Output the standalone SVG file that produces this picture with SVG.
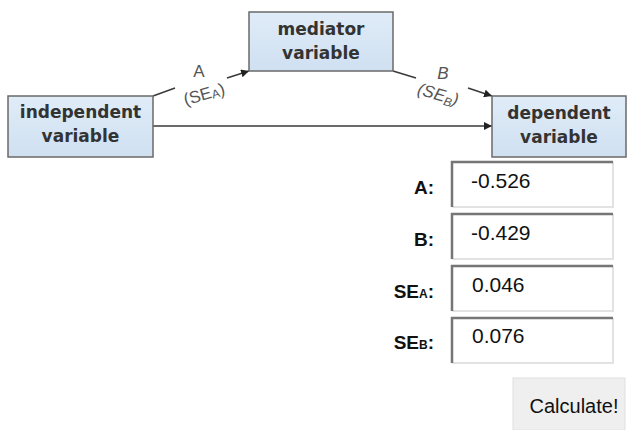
<svg xmlns="http://www.w3.org/2000/svg" width="628" height="430" viewBox="0 0 628 430">
<style>
.box{stroke:#6a6a6a;stroke-width:1.5;fill:url(#bg)}
.bt{font-family:"DejaVu Sans",sans-serif;font-weight:bold;font-size:17px;fill:#333;text-anchor:middle}
.ln{stroke:#3a3a3a;stroke-width:1.6;fill:none}
.lab{font-family:"Liberation Sans",Arial,sans-serif;font-size:17px;fill:#555}
.fl{font-family:"Liberation Sans",Arial,sans-serif;font-weight:bold;font-size:19px;fill:#111;text-anchor:end}
.fv{font-family:"Liberation Sans",Arial,sans-serif;font-size:21px;fill:#111}
.inp{fill:#fff}
.dk{stroke:#767676;stroke-width:2.5;fill:none}
.lt{stroke:#e2e2e2;stroke-width:2;fill:none}
</style>
<defs>
<linearGradient id="bg" x1="0" y1="0" x2="0" y2="1">
<stop offset="0" stop-color="#e0ecf8"/>
<stop offset="1" stop-color="#cfe0f1"/>
</linearGradient>
<marker id="ah" viewBox="0 0 10 10" refX="10" refY="5" markerWidth="8" markerHeight="8" markerUnits="userSpaceOnUse" orient="auto">
<path d="M0,0 L10,5 L0,10 Z" fill="#222"/>
</marker>
</defs>

<g id="connectors">
<line class="ln" x1="153" y1="96" x2="175" y2="88"/>
<line class="ln" x1="227" y1="78" x2="249" y2="71" marker-end="url(#ah)"/>
<line class="ln" x1="393" y1="71" x2="416" y2="78"/>
<line class="ln" x1="468" y1="88" x2="492" y2="96" marker-end="url(#ah)"/>
<line class="ln" x1="153" y1="126" x2="492" y2="126" marker-end="url(#ah)"/>
<text class="lab" x="199" y="77" text-anchor="middle">A</text>
<text class="lab" x="204" y="100" text-anchor="middle" transform="rotate(-16 204 94)">(SE<tspan font-size="12" dy="1">A</tspan><tspan dy="-1">)</tspan></text>
<text class="lab" x="443" y="79" text-anchor="middle" font-style="italic">B</text>
<text class="lab" x="438" y="100" text-anchor="middle" font-style="italic" transform="rotate(16 438 95)">(SE<tspan font-size="12" dy="3">B</tspan><tspan dy="-3">)</tspan></text>
</g>

<g id="independent">
<rect class="box" x="8" y="96" width="145" height="61"/>
<text class="bt" x="80.5" y="118">independent</text>
<text class="bt" x="80.5" y="142">variable</text>
</g>

<g id="mediator">
<rect class="box" x="249" y="12" width="144" height="59"/>
<text class="bt" x="321" y="35">mediator</text>
<text class="bt" x="321" y="59">variable</text>
</g>

<g id="dependent">
<rect class="box" x="492" y="96" width="134" height="61"/>
<text class="bt" x="559" y="119">dependent</text>
<text class="bt" x="559" y="143">variable</text>
</g>

<g id="field-A">
<text class="fl" x="434" y="194">A:</text>
<rect class="inp" x="452" y="162" width="161" height="45"/>
<path class="lt" d="M452,207 H613 V162"/>
<path class="dk" d="M452,207 V162 H613"/>
<text class="fv" x="471" y="188">-0.526</text>
</g>

<g id="field-B">
<text class="fl" x="434" y="246">B:</text>
<rect class="inp" x="452" y="214" width="161" height="45"/>
<path class="lt" d="M452,259 H613 V214"/>
<path class="dk" d="M452,259 V214 H613"/>
<text class="fv" x="471" y="240">-0.429</text>
</g>

<g id="field-SEA">
<text class="fl" x="434" y="298">SE<tspan font-size="12">A</tspan>:</text>
<rect class="inp" x="452" y="266" width="161" height="45"/>
<path class="lt" d="M452,311 H613 V266"/>
<path class="dk" d="M452,311 V266 H613"/>
<text class="fv" x="472" y="292">0.046</text>
</g>

<g id="field-SEB">
<text class="fl" x="434" y="349">SE<tspan font-size="12">B</tspan>:</text>
<rect class="inp" x="452" y="318" width="161" height="45"/>
<path class="lt" d="M452,363 H613 V318"/>
<path class="dk" d="M452,363 V318 H613"/>
<text class="fv" x="472" y="343">0.076</text>
</g>

<g id="calculate">
<rect x="513" y="378" width="112" height="52" fill="#efefef" stroke="#e0e0e0" stroke-width="1"/>
<text x="574" y="413" text-anchor="middle" font-family="Liberation Sans, Arial, sans-serif" font-size="20" fill="#111">Calculate!</text>
</g>
</svg>
